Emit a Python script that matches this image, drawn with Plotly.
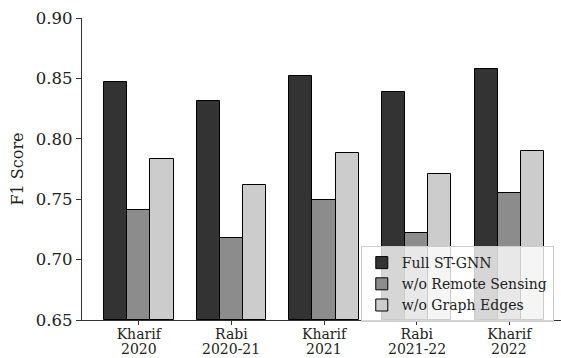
import plotly.graph_objects as go

season = ["Kharif", "Rabi", "Kharif", "Rabi", "Kharif"]
year = ["2020", "2020-21", "2021", "2021-22", "2022"]
full_stgnn = [0.847, 0.831, 0.852, 0.839, 0.858]
wo_remote = [0.741, 0.718, 0.749, 0.722, 0.755]
wo_graph = [0.783, 0.762, 0.788, 0.771, 0.790]

series = [
    ("Full ST-GNN", full_stgnn, "#333333", -0.25),
    ("w/o Remote Sensing", wo_remote, "#8c8c8c", 0.0),
    ("w/o Graph Edges", wo_graph, "#cccccc", 0.25),
]

idx = list(range(len(season)))
fig = go.Figure()
for name, vals, color, off in series:
    fig.add_trace(go.Bar(
        x=[i + off for i in idx], y=[v - 0.65 for v in vals], base=0.65,
        name=name, width=0.25, marker=dict(color=color, line=dict(color="black", width=1)),
    ))

font = "DejaVu Serif"
for i, yr in zip(idx, year):
    fig.add_annotation(x=i, xref="x", y=0, yref="paper", text=yr, showarrow=False,
                       yanchor="bottom", yshift=-38, borderpad=0,
                       font=dict(size=14, family=font, color="#222222"))

fig.update_layout(
    width=561, height=358,
    margin=dict(l=82, r=0, t=18, b=38),
    plot_bgcolor="white", paper_bgcolor="white",
    font=dict(family=font, color="#222222"),
    showlegend=True,
    legend=dict(x=0.582, y=0.245, xanchor="left", yanchor="top",
                bgcolor="rgba(255,255,255,0.8)", bordercolor="#cccccc", borderwidth=1,
                font=dict(family=font, size=14), tracegroupgap=0),
    bargap=0,
)
fig.update_xaxes(
    range=[-0.6125, 4.557], tickmode="array", tickvals=idx, ticktext=season,
    showline=True, linecolor="#333333", linewidth=1.2, ticks="outside", ticklen=4,
    tickcolor="#333333", showgrid=False, zeroline=False, tickfont=dict(size=14, family=font),
    automargin=False, ticklabelstandoff=-3,
)
fig.update_yaxes(
    range=[0.65, 0.90], tickvals=[0.65, 0.70, 0.75, 0.80, 0.85, 0.90],
    ticktext=["0.65", "0.70", "0.75", "0.80", "0.85", "0.90"],
    showline=True, linecolor="#333333", linewidth=1.2, ticks="outside", ticklen=5,
    tickcolor="#333333", showgrid=False, zeroline=False,
    tickfont=dict(size=16.5, family=font), automargin=False,
    title=dict(text="F1 Score", font=dict(size=16, family=font), standoff=8),
)
fig.write_html("out.html")
